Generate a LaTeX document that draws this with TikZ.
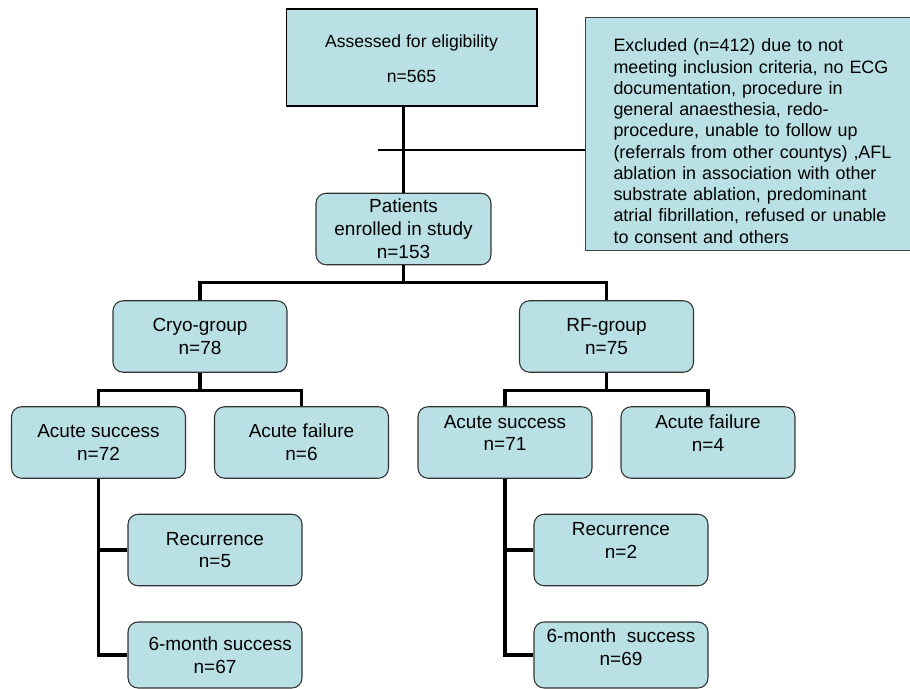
\documentclass[tikz,border=0pt]{standalone}
\usepackage{fontspec}
\setmainfont{Liberation Sans}
\definecolor{boxfill}{RGB}{185,224,228}
% extra depth on a last line lifts the text in its box
\newcommand{\liftup}{\rule[-0.38cm]{0pt}{0.38cm}}

\begin{document}
\begin{tikzpicture}[x=0.02cm,y=-0.02cm,
sqblock/.style={draw=black,fill=boxfill,rectangle,line width=0.6pt,minimum width=5.02cm,minimum height=1.94cm,inner sep=0pt,align=center,font=\fontsize{10}{12}\selectfont},
rdblock/.style={draw=black!80,fill=boxfill,rectangle,rounded corners=0.2cm,line width=0.6pt,minimum width=3.48cm,minimum height=1.43cm,inner sep=1pt,align=center,font=\fontsize{10.8}{13}\selectfont},
exblock/.style={draw=black!75,fill=boxfill,rectangle,line width=0.6pt,anchor=north west,text width=6.5cm,inner xsep=0.56cm,inner ysep=0pt,minimum height=4.66cm,align=left,font=\fontsize{10.2}{12.1}\selectfont},
stem/.style={line width=1.4pt},
branch/.style={line width=1.8pt}]

\useasboundingbox (0,0) rectangle (910,689);
\clip (0,0) rectangle (910,689);

\draw (411.5,57.5) node[sqblock] (assess) {\rule{0pt}{0.3cm}Assessed for eligibility\\[8pt]n=565};
\draw (585,17) node[exblock] (excl) {\rule{0pt}{0.54cm}Excluded (n=412) due to not\\
meeting inclusion criteria, no ECG\\
documentation, procedure in\\
general anaesthesia, redo-\\
procedure, unable to follow up\\
(referrals from other countys) ,AFL\\
ablation in association with other\\
substrate ablation, predominant\\
atrial fibrillation, refused or unable\\
to consent and others};
\draw (403.5,229) node[rdblock,minimum width=3.5cm,inner sep=0pt] (enrolled) {Patients\\enrolled in study\\n=153};

\draw (200,336.5) node[rdblock] (cryo) {Cryo-group\\n=78};
\draw (606.5,336.5) node[rdblock] (rf) {RF-group\\n=75};

\draw (98.5,442.5) node[rdblock] (cas) {Acute success\\n=72};
\draw (301.5,442.5) node[rdblock] (caf) {Acute failure\\n=6};
\draw (505,442.5) node[rdblock] (ras) {Acute success\\n=71\liftup};
\draw (708,442.5) node[rdblock] (raf) {Acute failure\\n=4\liftup};

\draw (215,550) node[rdblock] (crec) {Recurrence\\n=5};
\draw (215,655) node[rdblock,minimum height=1.32cm] (csix) {~~6-month success\\n=67};
\draw (621,550) node[rdblock] (rrec) {Recurrence\\n=2\liftup};
\draw (621,655) node[rdblock,minimum height=1.32cm] (rsix) {6-month~ success\\n=69\rule[-0.3cm]{0pt}{0.3cm}};

\draw[stem] (enrolled.90) -- (enrolled.90 |- assess.-90);
\coordinate (cut) at (378,150);
\draw[stem] (cut) -- (cut -| excl.180);

\draw[branch] (enrolled.-90) -- ++(0,17) -| (cryo.90);
\draw[branch] (enrolled.-90) -- ++(0,17) -| (rf.90);
\draw[branch] (cryo.-90) -- ++(0,18) -| (cas.90);
\draw[branch] (cryo.-90) -- ++(0,18) -| (caf.90);
\draw[branch] (rf.-90) -- ++(0,18) -| (ras.90);
\draw[branch] (rf.-90) -- ++(0,18) -| (raf.90);
\draw[branch] (cas.-90) |- (crec.180);
\draw[branch] (cas.-90) |- (csix.180);
\draw[branch] (ras.-90) |- (rrec.180);
\draw[branch] (ras.-90) |- (rsix.180);
\end{tikzpicture}
\end{document}
